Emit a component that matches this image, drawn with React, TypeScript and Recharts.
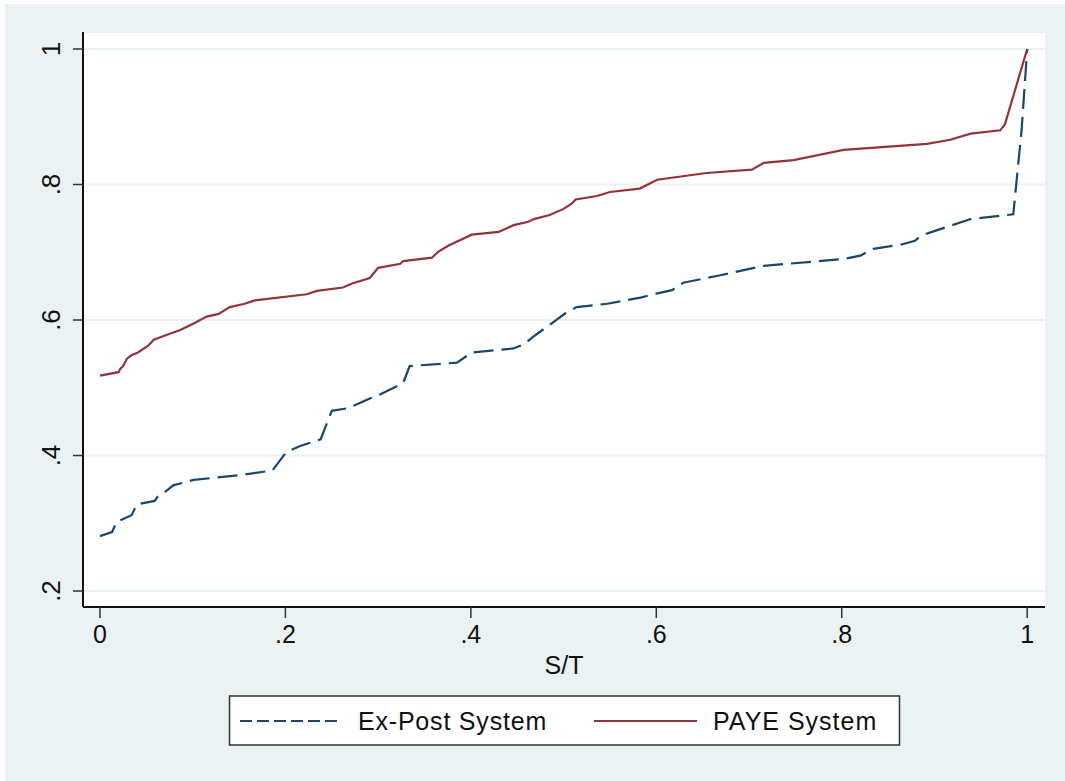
import React from 'react';
import { LineChart, Line, XAxis, YAxis, CartesianGrid } from 'recharts';

// Ex-Post System (dashed navy)
const expostX = [
  0.0, 0.013, 0.018, 0.034, 0.04, 0.059, 0.062, 0.07, 0.079, 0.101, 0.151, 0.186, 0.201, 0.216,
  0.238, 0.25, 0.268, 0.291, 0.302, 0.327, 0.334, 0.385, 0.401, 0.446, 0.457, 0.467, 0.503, 0.514,
  0.547, 0.583, 0.6, 0.617, 0.629, 0.669, 0.716, 0.802, 0.82, 0.834, 0.863, 0.879, 0.885, 0.895,
  0.939, 0.985, 0.994, 1.0,
];
const expostY = [
  0.281, 0.287, 0.302, 0.312, 0.328, 0.333, 0.339, 0.346, 0.356, 0.364, 0.371, 0.378, 0.405, 0.414,
  0.424, 0.466, 0.47, 0.484, 0.49, 0.507, 0.532, 0.537, 0.552, 0.558, 0.564, 0.575, 0.611, 0.619,
  0.624, 0.633, 0.639, 0.644, 0.655, 0.666, 0.68, 0.69, 0.695, 0.705, 0.711, 0.717, 0.724, 0.729,
  0.749, 0.756, 0.881, 1.0,
];

// PAYE System (solid maroon)
const payeX = [
  0.0, 0.02, 0.022, 0.025, 0.029, 0.034, 0.041, 0.052, 0.058, 0.076, 0.086, 0.101, 0.115, 0.128,
  0.14, 0.156, 0.167, 0.223, 0.234, 0.262, 0.272, 0.291, 0.3, 0.324, 0.327, 0.358, 0.365, 0.376,
  0.401, 0.43, 0.446, 0.462, 0.468, 0.485, 0.5, 0.509, 0.513, 0.536, 0.55, 0.582, 0.601, 0.654,
  0.703, 0.716, 0.748, 0.802, 0.892, 0.917, 0.939, 0.971, 0.976, 1.0,
];
const payeY = [
  0.518, 0.523, 0.528, 0.532, 0.543, 0.548, 0.552, 0.562, 0.571, 0.58, 0.585, 0.595, 0.605, 0.609,
  0.619, 0.624, 0.629, 0.638, 0.643, 0.648, 0.654, 0.662, 0.677, 0.683, 0.687, 0.692, 0.701, 0.71,
  0.726, 0.73, 0.74, 0.745, 0.749, 0.755, 0.764, 0.772, 0.778, 0.783, 0.789, 0.794, 0.807, 0.817,
  0.822, 0.832, 0.836, 0.851, 0.86, 0.866, 0.875, 0.88, 0.889, 1.0,
];

const xTicks = [0, 0.2, 0.4, 0.6, 0.8, 1];
const yTicks = [0.2, 0.4, 0.6, 0.8, 1];

const NAVY = '#1A476F';
const MAROON = '#90353B';
const BG = '#EAF2F3';
const FONT = '"Liberation Sans", Arial, sans-serif';

const fmt = (v: number) => (v === 0 || v === 1 ? String(v) : String(v).replace(/^0/, ''));

const expostData = expostX.map((x, i) => ({ x, y: expostY[i] }));
const payeData = payeX.map((x, i) => ({ x, y: payeY[i] }));

const XTick = (props: any) => {
  const { x, y, payload } = props;
  return (
    <text x={x} y={y + 23} textAnchor="middle" fontSize={25} fontFamily={FONT} fill="#111">
      {fmt(payload.value)}
    </text>
  );
};

const YTick = (props: any) => {
  const { x, y, payload } = props;
  return (
    <g transform={`translate(${x - 11},${y}) rotate(-90)`}>
      <text x={0} y={0} textAnchor="middle" fontSize={26} fontFamily={FONT} fill="#111">
        {fmt(payload.value)}
      </text>
    </g>
  );
};

export default function App() {
  return (
    <div style={{ position: 'absolute', left: 0, top: 0, width: 1065, height: 781, background: '#fff' }}>
      <div style={{ position: 'absolute', left: 5, top: 4, width: 1060, height: 777, background: BG }} />
      <div style={{ position: 'absolute', left: 0, top: 0 }}>
        <LineChart width={1065} height={781} margin={{ top: 32, right: 20, left: 0, bottom: 100 }}>
          <CartesianGrid vertical={false} horizontal fill="#fff" stroke={BG} strokeWidth={2} />
          <XAxis
            type="number"
            dataKey="x"
            domain={[-0.0183, 1.0192]}
            ticks={xTicks}
            allowDataOverflow
            height={74}
            tickSize={11}
            tickMargin={2}
            axisLine={{ stroke: '#111', strokeWidth: 2 }}
            tickLine={{ stroke: '#333', strokeWidth: 1.5 }}
            tick={<XTick />}
            label={{
              value: 'S/T',
              position: 'insideBottom',
              offset: 7,
              fontSize: 25,
              fontFamily: FONT,
              fill: '#111',
            }}
          />
          <YAxis
            type="number"
            dataKey="y"
            domain={[0.1764, 1.0251]}
            ticks={yTicks}
            allowDataOverflow
            width={83}
            tickSize={10}
            tickMargin={2}
            axisLine={{ stroke: '#111', strokeWidth: 2 }}
            tickLine={{ stroke: '#333', strokeWidth: 1.5 }}
            tick={<YTick />}
          />
          <Line
            data={expostData}
            dataKey="y"
            type="linear"
            stroke={NAVY}
            strokeWidth={2.2}
            strokeDasharray="20 8"
            dot={false}
            isAnimationActive={false}
          />
          <Line
            data={payeData}
            dataKey="y"
            type="linear"
            stroke={MAROON}
            strokeWidth={2.2}
            dot={false}
            isAnimationActive={false}
          />
        </LineChart>
      </div>
      <svg
        width={1065}
        height={781}
        style={{ position: 'absolute', left: 0, top: 0, pointerEvents: 'none' }}
      >
        <rect x={229.5} y={696} width={670} height={49} fill="#fff" stroke="#333" strokeWidth={1.5} />
        <line x1={240} y1={721} x2={342} y2={721} stroke={NAVY} strokeWidth={2} strokeDasharray="12 5" />
        <text x={358} y={730} fontSize={25} fontFamily={FONT} fill="#111" letterSpacing={0.8}>
          Ex-Post System
        </text>
        <line x1={594} y1={721} x2={697} y2={721} stroke={MAROON} strokeWidth={2} />
        <text x={713} y={730} fontSize={25} fontFamily={FONT} fill="#111" letterSpacing={1}>
          PAYE System
        </text>
      </svg>
    </div>
  );
}
